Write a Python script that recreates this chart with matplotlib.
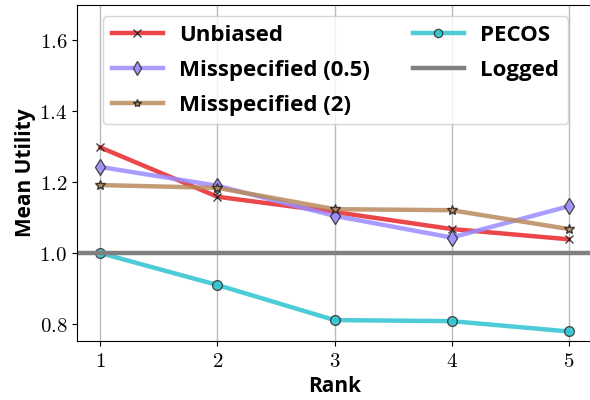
import matplotlib
matplotlib.use("Agg")
import matplotlib.pyplot as plt
from matplotlib.ticker import FuncFormatter

plt.rcParams['mathtext.fontset'] = 'cm'

ranks = [1, 2, 3, 4, 5]
unbiased = [1.298, 1.159, 1.116, 1.068, 1.039]
missp_05 = [1.243, 1.190, 1.105, 1.044, 1.132]
missp_2 = [1.192, 1.184, 1.124, 1.121, 1.068]
pecos = [1.000, 0.910, 0.811, 0.808, 0.779]
logged = 1.0

fig = plt.figure(figsize=(5.9, 4.0), dpi=100)
ax = fig.add_axes([77/590, 59/400, (592-77)/590, (341-5)/400])

lw = 3.2
ax.plot(ranks, unbiased, color='#e8262a', alpha=0.85, lw=lw, marker='x', ms=6,
        mec='#222222', mew=1.0, label='Unbiased')
ax.plot(ranks, missp_05, color='#9a8cff', alpha=0.85, lw=lw, marker='d', ms=8,
        mfc='#9a8cff', mec='#333333', mew=1.0, label='Misspecified (0.5)')
ax.plot(ranks, missp_2, color='#b98a5c', alpha=0.85, lw=lw, marker='*', ms=7,
        mfc='#b98a5c', mec='#222222', mew=1.0, label='Misspecified (2)')
ax.plot(ranks, pecos, color='#2ec4d2', alpha=0.85, lw=lw, marker='o', ms=7,
        mfc='#2ec4d2', mec='#333333', mew=1.0, label='PECOS')
ax.axhline(logged, color='#808080', lw=lw, label='Logged')

ax.set_xlim(0.8, 5.2)
ax.set_ylim(0.752, 1.70)
ax.set_xticks(ranks)
ax.set_yticks([0.8, 1.0, 1.2, 1.4, 1.6])
ax.xaxis.set_major_formatter(FuncFormatter(lambda v, p: f"${int(v)}$"))
ax.yaxis.set_major_formatter(FuncFormatter(lambda v, p: f"${v:.1f}$"))
ax.tick_params(labelsize=15)
ax.grid(axis='x', color='#bbbbbb', lw=1.0)
ax.set_axisbelow(True)
ax.spines['right'].set_visible(False)

ax.set_xlabel('Rank', fontsize=15, fontweight='bold', family='Open Sans', labelpad=4)
ax.set_ylabel('Mean Utility', fontsize=15, fontweight='bold', family='Open Sans', labelpad=2)

leg = ax.legend(ncol=2, loc='upper left', bbox_to_anchor=(0.05, 0.967),
                prop={'weight': 'bold', 'size': 16, 'family': 'Open Sans'},
                handlelength=2.3, handletextpad=0.75, markerscale=0.85,
                columnspacing=1.9, labelspacing=0.62, framealpha=0.8,
                borderaxespad=0.0)

fig.savefig('out.png', dpi=100)
